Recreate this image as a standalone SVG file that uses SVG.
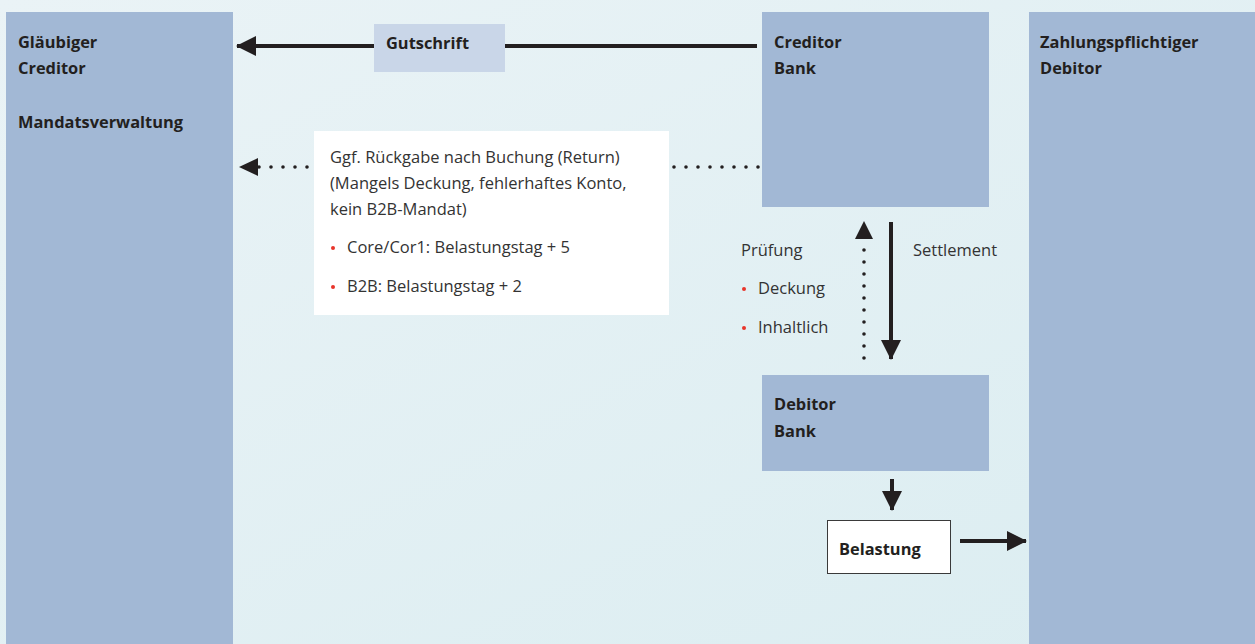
<svg xmlns="http://www.w3.org/2000/svg" width="1255" height="644" viewBox="0 0 1255 644">
  <defs>
    <linearGradient id="bg" x1="0" y1="0" x2="1" y2="1">
      <stop offset="0" stop-color="#eaf3f6"/>
      <stop offset="1" stop-color="#dbedf1"/>
    </linearGradient>
    <marker id="head" viewBox="0 0 20 20" refX="19" refY="10" markerWidth="20" markerHeight="20" markerUnits="userSpaceOnUse" orient="auto">
      <path d="M0,0 L20,10 L0,20 Z" fill="#231f20"/>
    </marker>
  </defs>
  <style>
    .box { fill: #a2b8d5; }
    .lbl { fill: #231f20; font-family: "Open Sans", "Noto Sans", sans-serif; font-size: 16.4px; font-weight: 700; }
    .txt { fill: #333333; font-family: "Open Sans", "Noto Sans", sans-serif; font-size: 16.5px; font-weight: 400; }
    .dot { fill: #e8342a; }
    .solid { stroke: #231f20; stroke-width: 4; fill: none; }
    .dotted { stroke: #231f20; stroke-width: 3.6; stroke-linecap: round; stroke-dasharray: 0 12; fill: none; }
  </style>

  <rect x="0" y="0" width="1255" height="644" fill="url(#bg)"/>

  <g id="creditor">
    <rect class="box" x="6" y="12" width="227" height="632"/>
    <text class="lbl" x="18" y="48">Gläubiger</text>
    <text class="lbl" x="18" y="74">Creditor</text>
    <text class="lbl" x="18" y="128">Mandatsverwaltung</text>
  </g>

  <g id="creditor-bank">
    <rect class="box" x="762" y="12" width="227" height="195"/>
    <text class="lbl" x="774" y="48">Creditor</text>
    <text class="lbl" x="774" y="74">Bank</text>
  </g>

  <g id="debitor">
    <rect class="box" x="1029" y="12" width="226" height="632"/>
    <text class="lbl" x="1040" y="48">Zahlungspflichtiger</text>
    <text class="lbl" x="1040" y="74">Debitor</text>
  </g>

  <g id="debitor-bank">
    <rect class="box" x="762" y="375" width="227" height="96"/>
    <text class="lbl" x="774" y="410">Debitor</text>
    <text class="lbl" x="774" y="437">Bank</text>
  </g>

  <g id="connectors">
    <!-- credit transfer back to the creditor -->
    <line class="solid" x1="757" y1="46" x2="505" y2="46"/>
    <line class="solid" x1="374" y1="46" x2="237" y2="46" marker-end="url(#head)"/>
    <!-- return after booking -->
    <line class="dotted" x1="758" y1="167" x2="670" y2="167"/>
    <line class="dotted" x1="307" y1="167" x2="250" y2="167"/>
    <path d="M239,167 L258,158 L258,176 Z" fill="#231f20"/>
    <!-- check, upward -->
    <line class="dotted" x1="864" y1="358" x2="864" y2="240"/>
    <path d="M864,221 L855,239 L873,239 Z" fill="#231f20"/>
    <!-- settlement, downward -->
    <line class="solid" x1="891" y1="222" x2="891" y2="359" marker-end="url(#head)"/>
    <!-- debit -->
    <line class="solid" x1="892" y1="479" x2="892" y2="510" marker-end="url(#head)"/>
    <line class="solid" x1="960" y1="541" x2="1026" y2="541" marker-end="url(#head)"/>
  </g>

  <g id="gutschrift">
    <rect x="374" y="24" width="131" height="48" fill="#c9d6e8"/>
    <text class="lbl" x="386" y="49">Gutschrift</text>
  </g>

  <g id="return-note">
    <rect x="314" y="131" width="355" height="184" fill="#ffffff"/>
    <text class="txt" x="330" y="163">Ggf. Rückgabe nach Buchung (Return)</text>
    <text class="txt" x="330" y="189">(Mangels Deckung, fehlerhaftes Konto,</text>
    <text class="txt" x="330" y="215">kein B2B-Mandat)</text>
    <circle class="dot" cx="333" cy="248" r="2"/>
    <text class="txt" x="347" y="253">Core/Cor1: Belastungstag + 5</text>
    <circle class="dot" cx="333" cy="287" r="2"/>
    <text class="txt" x="347" y="292">B2B: Belastungstag + 2</text>
  </g>

  <g id="pruefung">
    <text class="txt" x="741" y="256">Prüfung</text>
    <circle class="dot" cx="744" cy="289" r="2"/>
    <text class="txt" x="758" y="294">Deckung</text>
    <circle class="dot" cx="744" cy="328" r="2"/>
    <text class="txt" x="758" y="333">Inhaltlich</text>
  </g>

  <g id="settlement">
    <text class="txt" x="913" y="256">Settlement</text>
  </g>

  <g id="belastung">
    <rect x="827.5" y="520.5" width="123" height="53" fill="#ffffff" stroke="#3a3a3a" stroke-width="1"/>
    <text class="lbl" x="839" y="555">Belastung</text>
  </g>
</svg>
